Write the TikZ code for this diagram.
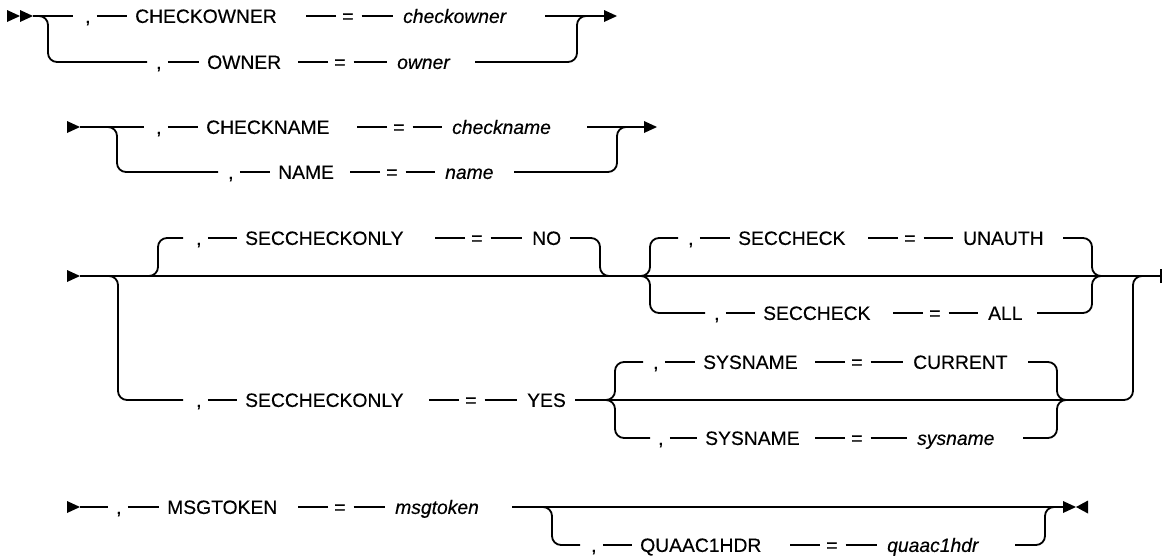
\documentclass[tikz,border=0pt]{standalone}
\usepackage{fontspec}
\setmainfont[FakeBold=0.35,AutoFakeBold=0.35]{Liberation Sans}
\newcommand{\RRtri}[1]{\fill (#1) -- ++(-13,-6) -- ++(0,12) -- cycle;}
\newcommand{\LLtri}[1]{\fill (#1) -- ++(12,-6.5) -- ++(0,13) -- cycle;}
\newcommand{\comdash}[2]{\draw[rail, shorten <=6pt, shorten >=8pt] (#1.east) -- (#2.west);}
\newcommand{\eqdash}[2]{\draw[rail] ([xshift=-6pt]#1.west) -- ++(-30,0);
  \draw[rail, shorten <=8pt, shorten >=10pt] (#1.east) -- (#2.west);}
\tikzset{
  rail/.style={line width=1.8pt, line cap=butt},
  rr/.style={rail, rounded corners=9pt},
  kw/.style={anchor=west, inner sep=0pt, font=\fontsize{19.3}{22}\selectfont\bfseries, text height=13.8pt, text depth=0pt},
  var/.style={kw, font=\fontsize{19.3}{22}\selectfont\bfseries\itshape},
}
\begin{document}
\begin{tikzpicture}[x=1pt,y=-1pt]
\useasboundingbox (0,0) rectangle (1163,558);

% ---------- Row 1 ----------
\node[kw]  (c1a) at (85,16)  {,};
\node[kw]  (k1a) at (135,16) {CHECKOWNER};
\node[kw]  (e1a) at (342,16) {=};
\node[var] (v1a) at (403,16) {checkowner};
\node[kw]  (c1b) at (156,62) {,};
\node[kw]  (k1b) at (207,62) {OWNER};
\node[kw]  (e1b) at (334,62) {=};
\node[var] (v1b) at (397,62) {owner};
\coordinate (s1a) at (20,16);
\coordinate (s1) at (33,16);
\coordinate (j1a) at (38,16);
\coordinate (t1a) at (545,16);
\coordinate (a1) at (617,16);
\coordinate (t1b) at (475,62);
\coordinate (j1b) at (590,16);
\RRtri{s1a}
\RRtri{s1}
\draw[rail] (s1) -- ([xshift=-12pt]c1a.west);
\draw[rr] (j1a) -- ++(10,0) |- ([xshift=-9pt]c1b.west);
\comdash{c1a}{k1a} \eqdash{e1a}{v1a}
\comdash{c1b}{k1b} \eqdash{e1b}{v1b}
\draw[rail] (t1a) -- ([xshift=-12pt]a1);
\RRtri{a1}
\draw[rr] (t1b) -| ([xshift=-13pt]j1b) -- (j1b);

% ---------- Row 2 ----------
\node[kw]  (c2a) at (156,127) {,};
\node[kw]  (k2a) at (206,127) {CHECKNAME};
\node[kw]  (e2a) at (393,127) {=};
\node[var] (v2a) at (452,127) {checkname};
\node[kw]  (c2b) at (228,172) {,};
\node[kw]  (k2b) at (278,172) {NAME};
\node[kw]  (e2b) at (386,172) {=};
\node[var] (v2b) at (445,172) {name};
\coordinate (s2) at (80,127);
\coordinate (j2a) at (107,127);
\coordinate (t2a) at (587,127);
\coordinate (a2) at (657,127);
\coordinate (t2b) at (514,172);
\coordinate (j2b) at (630,127);
\RRtri{s2}
\draw[rail] (s2) -- ([xshift=-12pt]c2a.west);
\draw[rr] (j2a) -- ++(10,0) |- ([xshift=-10pt]c2b.west);
\comdash{c2a}{k2a} \eqdash{e2a}{v2a}
\comdash{c2b}{k2b} \eqdash{e2b}{v2b}
\draw[rail] (t2a) -- ([xshift=-12pt]a2);
\RRtri{a2}
\draw[rr] (t2b) -| ([xshift=-13pt]j2b) -- (j2b);

% ---------- Row 3 ----------
\node[kw] (c3a) at (196,238) {,};
\node[kw] (k3a) at (245,238) {SECCHECKONLY};
\node[kw] (e3a) at (471,238) {=};
\node[kw] (v3a) at (532,238) {NO};
\node[kw] (c3b) at (688,238) {,};
\node[kw] (k3b) at (738,238) {SECCHECK};
\node[kw] (e3b) at (904,238) {=};
\node[kw] (v3b) at (963,238) {UNAUTH};
\node[kw] (c3c) at (714,313) {,};
\node[kw] (k3c) at (763,313) {SECCHECK};
\node[kw] (e3c) at (929,313) {=};
\node[kw] (v3c) at (988,313) {ALL};
\node[kw] (c3d) at (196,400) {,};
\node[kw] (k3d) at (245,400) {SECCHECKONLY};
\node[kw] (e3d) at (465,400) {=};
\node[kw] (v3d) at (527,400) {YES};
\node[kw] (c3e) at (653,362) {,};
\node[kw] (k3e) at (703,362) {SYSNAME};
\node[kw] (e3e) at (851,362) {=};
\node[kw] (v3e) at (913,362) {CURRENT};
\node[kw] (c3f) at (658,438) {,};
\node[kw] (k3f) at (705,438) {SYSNAME};
\node[kw] (e3f) at (851,438) {=};
\node[var] (v3f) at (917,438) {sysname};
\coordinate (s3) at (80,276);
\coordinate (e3) at (1161,276);
\coordinate (j3a) at (148,276);
\coordinate (t3a) at (570,238);
\coordinate (j3b) at (612,276);
\coordinate (j3c) at (640,276);
\coordinate (t3b) at (1063,238);
\coordinate (t3c) at (1037,313);
\coordinate (j3d) at (1104,276);
\coordinate (j3e) at (108,276);
\coordinate (t3d) at (575,400);
\coordinate (j3f) at (1145,276);
\coordinate (j3g) at (605,400);
\coordinate (t3e) at (1028,362);
\coordinate (t3f) at (1023,438);
\coordinate (j3h) at (1069,400);
\RRtri{s3}
\draw[rail] (s3) -- (e3);
\draw[rail] ([yshift=-7pt]e3) -- ([yshift=7pt]e3);
% NO (default, above)
\draw[rr] (j3a) -- ++(10,0) |- ([xshift=-13pt]c3a.west);
\comdash{c3a}{k3a} \eqdash{e3a}{v3a}
\draw[rr] (t3a) -| ([xshift=-12pt]j3b) -- (j3b);
% SECCHECK choice
\draw[rr] (j3c) -- ++(10,0) |- ([xshift=-10pt]c3b.west);
\draw[rr] (j3c) -- ++(10,0) |- ([xshift=-9pt]c3c.west);
\comdash{c3b}{k3b} \eqdash{e3b}{v3b}
\comdash{c3c}{k3c} \eqdash{e3c}{v3c}
\draw[rr] (t3b) -| ([xshift=-12pt]j3d) -- (j3d);
\draw[rr] (t3c) -| ([xshift=-12pt]j3d) -- (j3d);
% YES branch
\draw[rr] (j3e) -- ++(10,0) |- ([xshift=-13pt]c3d.west);
\comdash{c3d}{k3d} \eqdash{e3d}{v3d}
\draw[rr] (t3d) -| ([xshift=-12pt]j3f) -- (j3f);
% SYSNAME choice
\draw[rr] (j3g) -- ++(10,0) |- ([xshift=-10pt]c3e.west);
\draw[rr] (j3g) -- ++(10,0) |- ([xshift=-8pt]c3f.west);
\comdash{c3e}{k3e} \eqdash{e3e}{v3e}
\comdash{c3f}{k3f} \eqdash{e3f}{v3f}
\draw[rr] (t3e) -| ([xshift=-12pt]j3h) -- (j3h);
\draw[rr] (t3f) -| ([xshift=-12pt]j3h) -- (j3h);

% ---------- Row 4 ----------
\node[kw]  (c4a) at (116,507) {,};
\node[kw]  (k4a) at (167,507) {MSGTOKEN};
\node[kw]  (e4a) at (334,507) {=};
\node[var] (v4a) at (395,507) {msgtoken};
\node[kw]  (c4b) at (591,545) {,};
\node[kw]  (k4b) at (640,545) {QUAAC1HDR};
\node[kw]  (e4b) at (826,545) {=};
\node[var] (v4b) at (887,545) {quaac1hdr};
\coordinate (s4) at (80,507);
\coordinate (t4a) at (512,507);
\coordinate (a4) at (1064,507);
\coordinate (em4) at (1076,507);
\coordinate (j4a) at (543,507);
\coordinate (t4b) at (1015,545);
\coordinate (j4b) at (1057,507);
\RRtri{s4}
\draw[rail] (s4) -- ([xshift=-8pt]c4a.west);
\comdash{c4a}{k4a} \eqdash{e4a}{v4a}
\draw[rail] (t4a) -- (a4);
\draw[rr] (j4a) -- ++(9,0) |- ([xshift=-11pt]c4b.west);
\comdash{c4b}{k4b} \eqdash{e4b}{v4b}
\draw[rr] (t4b) -| ([xshift=-12pt]j4b) -- (j4b);
\RRtri{em4}
\LLtri{em4}
\end{tikzpicture}
\end{document}
